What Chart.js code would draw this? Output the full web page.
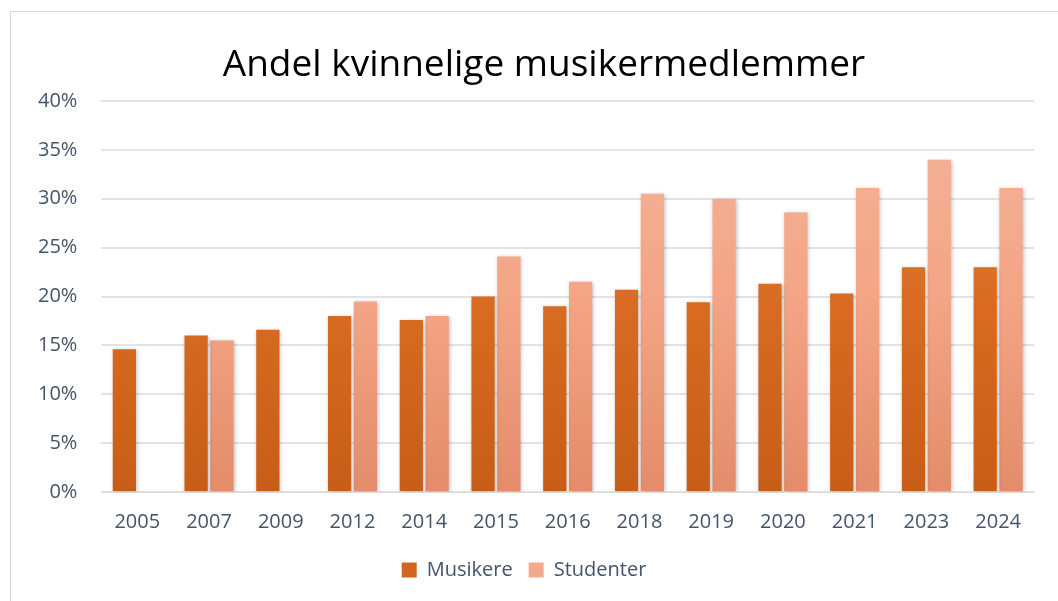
<!DOCTYPE html>
<html>
<head>
<meta charset="utf-8">
<script src="https://cdn.jsdelivr.net/npm/chart.js@4.4.0/dist/chart.umd.min.js"></script>
<style>
  html, body { margin: 0; padding: 0; background: #fff; }
  #wrap { position: absolute; left: 10px; top: 11px; width: 1060px; height: 600px; border: 1px solid #d9d9d9; box-sizing: border-box; }
  #box { position: absolute; left: 0; top: 0; width: 1058px; height: 601px; }
</style>
</head>
<body>
<div id="wrap"></div>
<div id="box"><canvas id="grafico"></canvas></div>
<script>
const aar = ["2005", "2007", "2009", "2012", "2014", "2015", "2016", "2018", "2019", "2020", "2021", "2023", "2024"];
const musikere = [14.6, 16.0, 16.6, 18.0, 17.6, 20.0, 19.0, 20.7, 19.4, 21.3, 20.3, 23.0, 23.0];
const studenter = [null, 15.5, null, 19.5, 18.0, 24.1, 21.5, 30.5, 30.0, 28.6, 31.1, 34.0, 31.1];
const tittel = "Andel kvinnelige musikermedlemmer";

const canvas = document.getElementById("grafico");
const fontFam = "'Open Sans', 'Noto Sans', sans-serif";

function gradient(ctx, area, farger) {
  const g = ctx.createLinearGradient(0, area.top, 0, area.bottom);
  g.addColorStop(0, farger[0]);
  g.addColorStop(0.5, farger[1]);
  g.addColorStop(1, farger[2]);
  return g;
}

// skygge rundt søylene, som i Excel
const skygge = {
  id: "skygge",
  beforeDatasetsDraw(chart) {
    const ctx = chart.ctx;
    ctx.save();
    ctx.shadowColor = "rgba(0,0,0,0.25)";
    ctx.shadowBlur = 4;
    ctx.shadowOffsetX = 1;
    ctx.shadowOffsetY = 1;
  },
  afterDatasetsDraw(chart) {
    chart.ctx.restore();
  }
};

// tittelen litt til høyre for midten, slik Excel plasserer den
const tittelPlugin = {
  id: "tittel",
  afterDraw(chart) {
    const ctx = chart.ctx;
    ctx.save();
    ctx.font = "37px " + fontFam;
    ctx.fillStyle = "#000";
    ctx.textAlign = "center";
    ctx.textBaseline = "alphabetic";
    ctx.fillText(tittel, 544, 76);
    ctx.restore();
  }
};

new Chart(canvas, {
  type: "bar",
  data: {
    labels: aar,
    datasets: [
      {
        label: "Musikere",
        data: musikere,
        backgroundColor: (c) => {
          const area = c.chart.chartArea;
          if (!area) return "#D96B22";
          return gradient(c.chart.ctx, area, ["#D88358", "#D96C22", "#C85D17"]);
        }
      },
      {
        label: "Studenter",
        data: studenter,
        backgroundColor: (c) => {
          const area = c.chart.chartArea;
          if (!area) return "#F4A585";
          return gradient(c.chart.ctx, area, ["#F2B49A", "#F4A585", "#E38C6B"]);
        }
      }
    ]
  },
  options: {
    responsive: true,
    maintainAspectRatio: false,
    animation: false,
    layout: { padding: { left: 14, right: 24, top: 101, bottom: 11 } },
    datasets: {
      bar: { categoryPercentage: 0.72, barPercentage: 0.9 }
    },
    plugins: {
      title: { display: false },
      legend: {
        position: "bottom",
        labels: {
          color: "#44546A",
          font: { family: fontFam, size: 20 },
          boxWidth: 15,
          boxHeight: 15,
          padding: 16,
          generateLabels: (chart) => [
            { text: "Musikere", fillStyle: "#D2651F", strokeStyle: "#D2651F", lineWidth: 0, datasetIndex: 0, fontColor: "#44546A" },
            { text: "Studenter", fillStyle: "#F3AA8C", strokeStyle: "#F3AA8C", lineWidth: 0, datasetIndex: 1, fontColor: "#44546A" }
          ]
        }
      },
      tooltip: { enabled: false }
    },
    scales: {
      x: {
        grid: { display: false },
        border: { color: "#d9d9d9" },
        ticks: { color: "#44546A", font: { family: fontFam, size: 20 }, padding: 10 }
      },
      y: {
        min: 0,
        max: 40,
        border: { display: false },
        grid: { color: "#e3e3e3", lineWidth: 2, drawTicks: false },
        ticks: {
          stepSize: 5,
          color: "#44546A",
          font: { family: fontFam, size: 20 },
          padding: 24,
          callback: (v) => v + "%"
        }
      }
    }
  },
  plugins: [skygge, tittelPlugin]
});
</script>
</body>
</html>
